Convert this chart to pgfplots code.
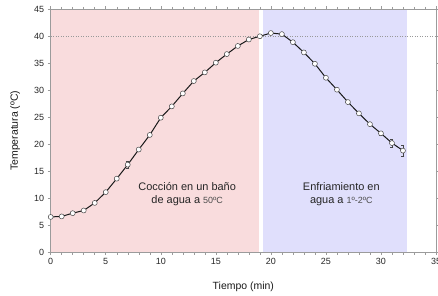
\documentclass[border=0pt]{standalone}
\usepackage{pgfplots}
\pgfplotsset{compat=1.18}
\usepackage{fontspec}
\setmainfont{Liberation Sans}
\definecolor{pinkbg}{RGB}{249,220,221}
\definecolor{bluebg}{RGB}{224,223,252}
\definecolor{axgray}{RGB}{155,155,155}
\definecolor{markgray}{RGB}{70,70,70}
\pgfplotstableread{
x y e
0 6.5 0
1 6.6 0
2 7.2 0
3 7.7 0
4 9.1 0
5 11.1 0
6 13.6 0
7 16.2 0.6
8 19.0 0
9 21.7 0
10 24.9 0
11 27.0 0
12 29.4 0
13 31.7 0
14 33.3 0
15 35.1 0
16 36.7 0
17 38.2 0
18 39.4 0
19 40.0 0
20 40.6 0
21 40.4 0
22 38.9 0
23 37.0 0
24 34.9 0
25 32.3 0
26 30.1 0
27 27.8 0
28 25.7 0
29 23.7 0
30 22.0 0.4
31 20.2 0.7
32 18.8 1.0
}\datatable
\begin{document}
\begin{tikzpicture}
\path[use as bounding box] (-50.7bp,-44bp) rectangle (387.3bp,252bp);
\begin{axis}[
  at={(0,0)}, anchor=south west,
  scale only axis, width=385.3bp, height=242.7bp,
  xmin=0, xmax=35, ymin=0, ymax=45,
  xtick={0,5,...,35}, ytick={0,5,...,45},
  minor x tick num=4,
  tick align=outside,
  major tick length=3bp, minor tick length=2.5bp,
  axis line style={axgray},
  every tick/.style={axgray, line width=0.5bp},
  tick label style={font=\fontsize{9}{10}\selectfont, text=black!85},
  /pgf/number format/assume math mode=true,
  xlabel={Tiempo (min)}, ylabel={Temperatura (ºC)},
  label style={font=\fontsize{10.5}{12}\selectfont, text=black!90},
  xlabel style={at={(axis description cs:0.5,-0.1525)}, anchor=base},
  ylabel style={at={(axis description cs:-0.0849,0.5)}, anchor=base, rotate=0},
  clip=false,
  axis on top,
]
\addplot[fill=pinkbg, draw=none] coordinates {(0,0) (18.9,0) (18.9,45) (0,45)} -- cycle;
\addplot[fill=bluebg, draw=none] coordinates {(19.25,0) (32.4,0) (32.4,45) (19.25,45)} -- cycle;
\addplot[black!40, dotted, line width=0.5bp] coordinates {(0,40) (35,40)};
\addplot[black!90, line width=1.0bp,
  mark=*, mark size=2.5bp,
  mark options={fill=white, draw=markgray, line width=0.5bp},
  error bars/.cd, y dir=both, y explicit,
  error bar style={markgray, line width=0.5bp},
  error mark options={rotate=90, markgray, mark size=1.5bp}]
  table[x=x, y=y, y error=e] {\datatable};
\node[align=center, font=\fontsize{11}{12.7}\selectfont, text=black!85]
  at (axis cs:12.4,10.74) {Cocción en un baño\\de agua a {\fontsize{9}{10}\selectfont\color{black!70}50ºC}};
\node[align=center, font=\fontsize{11}{12.7}\selectfont, text=black!85]
  at (axis cs:26.4,10.74) {Enfriamiento en\\agua a {\fontsize{9}{10}\selectfont\color{black!70}1º-2ºC}};
\end{axis}
\end{tikzpicture}
\end{document}
